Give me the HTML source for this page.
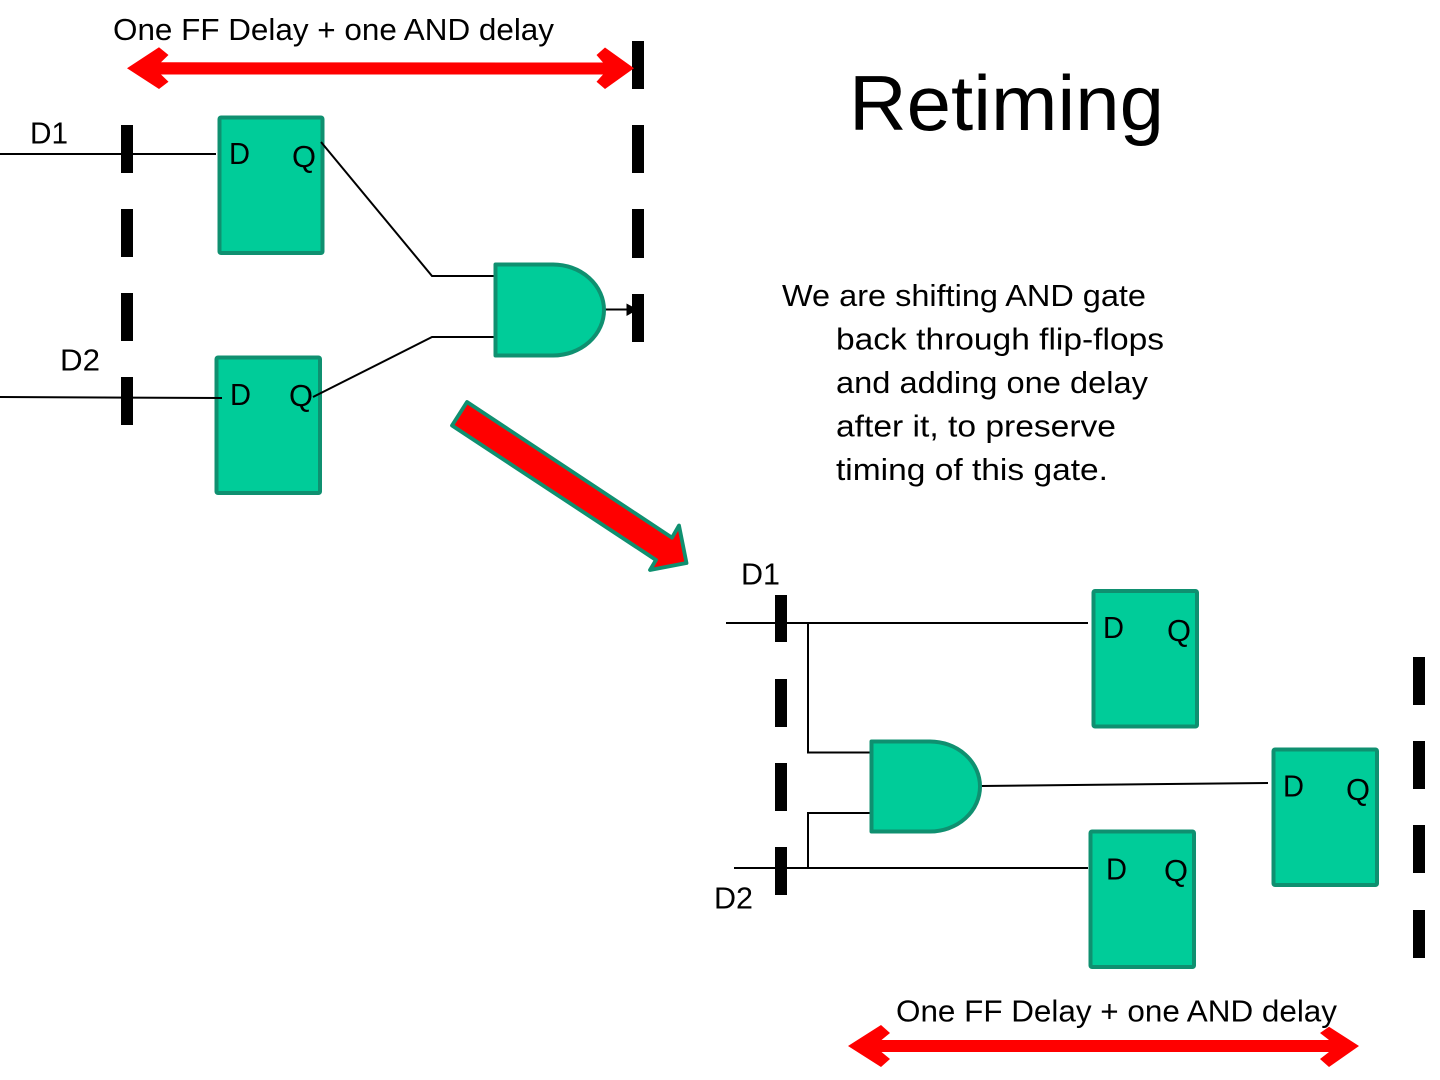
<!DOCTYPE html>
<html>
<head>
<meta charset="utf-8">
<style>
html,body{margin:0;padding:0;background:#fff;width:1440px;height:1080px;overflow:hidden}
svg{display:block}
text{font-family:"Liberation Sans",sans-serif;font-size:31px;fill:#000}
.w{fill:none;stroke:#000;stroke-width:2}
.g{fill:#00cc99;stroke:#0f9070;stroke-width:4;stroke-linejoin:round}
.r{fill:#ff0000}
</style>
</head>
<body>
<svg width="1440" height="1080" viewBox="0 0 1440 1080" xmlns="http://www.w3.org/2000/svg">
<!-- flip flops -->
<rect class="g" x="219.5" y="117.5" width="103" height="135.5" rx="1.5"/>
<rect class="g" x="216.5" y="357.5" width="103.5" height="135.5" rx="1.5"/>
<rect class="g" x="1093.5" y="591" width="103.5" height="135.5" rx="1.5"/>
<rect class="g" x="1273.5" y="749.5" width="103.5" height="135.5" rx="1.5"/>
<rect class="g" x="1090.5" y="831.5" width="103.5" height="135.5" rx="1.5"/>
<!-- dashed bars -->
<g fill="#000">
<rect x="121" y="125" width="12" height="48"/><rect x="121" y="209" width="12" height="48"/><rect x="121" y="293" width="12" height="48"/><rect x="121" y="377" width="12" height="48"/>
<rect x="632" y="41" width="12" height="48"/><rect x="632" y="125" width="12" height="48"/><rect x="632" y="209" width="12" height="49"/><rect x="632" y="294" width="12" height="48"/>
<rect x="775" y="595" width="12" height="47"/><rect x="775" y="679" width="12" height="48"/><rect x="775" y="763" width="12" height="48"/><rect x="775" y="847" width="12" height="48"/>
<rect x="1413" y="657" width="12" height="48"/><rect x="1413" y="741" width="12" height="48"/><rect x="1413" y="825" width="12" height="48"/><rect x="1413" y="910" width="12" height="48"/>
</g>
<!-- wires -->
<path class="w" d="M0 154H216"/>
<path class="w" d="M0 397L222 398"/>
<path class="w" d="M321 142L432 276H496"/>
<path class="w" d="M313 397L432 337H496"/>
<path class="w" d="M605 309.5H630"/>
<path d="M626.5 303.5L638 309.5L626.5 316Z" fill="#000"/>
<path class="w" d="M726 623H1088"/>
<path class="w" d="M808 623V752.5H871"/>
<path class="w" d="M734 868H1088"/>
<path class="w" d="M808 868V813H871"/>
<path class="w" d="M981 786L1268 783"/>
<!-- AND gates -->
<path class="g" d="M495.5 264.5H553A51 45.5 0 0 1 553 355.5H495.5Z"/>
<path class="g" d="M871.5 741.5H930A50 45 0 0 1 930 831.5H871.5Z"/>
<!-- red arrows -->
<path class="r" d="M127 68.3L159 47.3L168.5 55L161 62.3L603 62.5L596.5 55L605 47.5L634 68.3L605 89L596.5 81.7L603 74.5L161 74.5L168.5 81.7L159 89Z"/>
<path class="r" d="M848 1046L881 1025L890 1033L881.5 1040L1329 1040L1320 1033L1329 1026.7L1359 1046L1329 1067L1320 1059L1329 1052L881.5 1052L890 1059L881 1067Z"/>
<path d="M467 402L452 425.5L656 560L650 570L686.5 563L679 525.5L672 537.7Z" fill="#ff0000" stroke="#0f9070" stroke-width="3.8" stroke-linejoin="round"/>
<!-- labels -->
<text x="113" y="40" textLength="441" lengthAdjust="spacingAndGlyphs">One FF Delay + one AND delay</text>
<text x="896" y="1021.5" textLength="441" lengthAdjust="spacingAndGlyphs">One FF Delay + one AND delay</text>
<text x="849" y="130" textLength="315" lengthAdjust="spacingAndGlyphs" style="font-size:78px">Retiming</text>
<text x="782" y="306" textLength="364" lengthAdjust="spacingAndGlyphs">We are shifting AND gate</text>
<text x="836" y="349.5" textLength="328" lengthAdjust="spacingAndGlyphs">back through flip-flops</text>
<text x="836" y="393" textLength="312" lengthAdjust="spacingAndGlyphs">and adding one delay</text>
<text x="836" y="436.5" textLength="280" lengthAdjust="spacingAndGlyphs">after it, to preserve</text>
<text x="836" y="480" textLength="272" lengthAdjust="spacingAndGlyphs">timing of this gate.</text>
<text x="30" y="143.5" textLength="38" lengthAdjust="spacingAndGlyphs">D1</text>
<text x="60" y="370.5" textLength="40" lengthAdjust="spacingAndGlyphs">D2</text>
<text x="741" y="584.5" textLength="39" lengthAdjust="spacingAndGlyphs">D1</text>
<text x="714" y="908.5" textLength="39" lengthAdjust="spacingAndGlyphs">D2</text>
<text x="229" y="164" textLength="21" lengthAdjust="spacingAndGlyphs">D</text>
<text x="292" y="167" textLength="24" lengthAdjust="spacingAndGlyphs">Q</text>
<text x="230" y="405" textLength="21" lengthAdjust="spacingAndGlyphs">D</text>
<text x="289" y="406" textLength="24" lengthAdjust="spacingAndGlyphs">Q</text>
<text x="1103" y="638" textLength="21" lengthAdjust="spacingAndGlyphs">D</text>
<text x="1167" y="641" textLength="24" lengthAdjust="spacingAndGlyphs">Q</text>
<text x="1283" y="796.5" textLength="21" lengthAdjust="spacingAndGlyphs">D</text>
<text x="1346" y="800" textLength="24" lengthAdjust="spacingAndGlyphs">Q</text>
<text x="1106" y="879.5" textLength="21" lengthAdjust="spacingAndGlyphs">D</text>
<text x="1164" y="881" textLength="24" lengthAdjust="spacingAndGlyphs">Q</text>
</svg>
</body>
</html>
